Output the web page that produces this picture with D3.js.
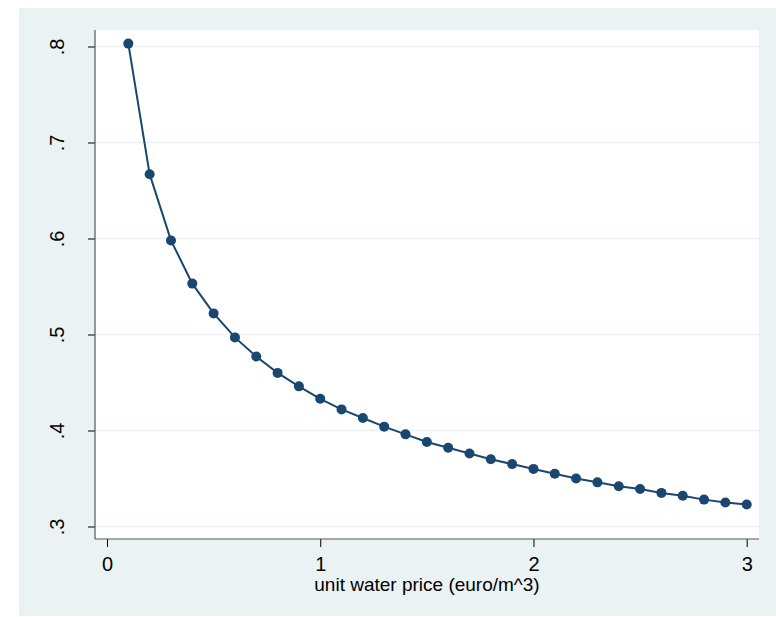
<!DOCTYPE html>
<html>
<head>
<meta charset="utf-8">
<script src="https://cdn.jsdelivr.net/npm/d3@7"></script>
<style>
  html, body { margin: 0; padding: 0; background: #ffffff; }
  svg { display: block; }
  text { font-family: "Liberation Sans", Arial, sans-serif; fill: #000; }
</style>
</head>
<body>
<svg id="chart" width="776" height="617"></svg>
<script>
// Data
const prices = [0.1,0.2,0.3,0.4,0.5,0.6,0.7,0.8,0.9,1.0,1.1,1.2,1.3,1.4,1.5,1.6,1.7,1.8,1.9,2.0,2.1,2.2,2.3,2.4,2.5,2.6,2.7,2.8,2.9,3.0];
const values = [0.803,0.667,0.598,0.553,0.522,0.497,0.477,0.460,0.446,0.433,0.422,0.413,0.404,0.396,0.388,0.382,0.376,0.370,0.365,0.360,0.355,0.350,0.346,0.342,0.339,0.335,0.332,0.328,0.325,0.323];
const xTicks = [0, 1, 2, 3];
const yTicks = [0.3, 0.4, 0.5, 0.6, 0.7, 0.8];
const xTitle = "unit water price (euro/m^3)";

const svg = d3.select("#chart");

// Outer graph region
svg.append("rect").attr("x", 19).attr("y", 8).attr("width", 757).attr("height", 608).attr("fill", "#EAF2F3");

const plot = {left: 95, top: 30, right: 759, bottom: 539};
svg.append("rect").attr("x", plot.left).attr("y", plot.top)
  .attr("width", plot.right - plot.left).attr("height", plot.bottom - plot.top).attr("fill", "#ffffff");

const x = d3.scaleLinear().domain([0, 3]).range([107, 746.7]);
const y = d3.scaleLinear().domain([0.3, 0.8]).range([526.5, 46.5]);

// Gridlines
svg.append("g").selectAll("line").data(yTicks).join("line")
  .attr("x1", plot.left).attr("x2", plot.right)
  .attr("y1", d => y(d)).attr("y2", d => y(d))
  .attr("stroke", "#EAF2F3").attr("stroke-width", 1.6);

// Y axis
const fmt = d => d3.format(".1f")(d).replace(/^0/, "");
const yAxis = svg.append("g").attr("transform", `translate(${plot.left},0)`)
  .call(d3.axisLeft(y).tickValues(yTicks).tickSize(7).tickSizeOuter(0).tickFormat(fmt));
yAxis.select(".domain").remove();
yAxis.selectAll(".tick line").attr("stroke", "#000").attr("stroke-width", 1);
yAxis.selectAll(".tick text")
  .attr("x", 0).attr("dy", null).attr("text-anchor", "middle")
  .attr("transform", "translate(-31,0) rotate(-90)")
  .attr("y", 0)
  .style("font-size", "20px")
  .style("font-family", "Liberation Sans, Arial, sans-serif");
svg.append("line").attr("x1", plot.left).attr("x2", plot.left).attr("y1", plot.top).attr("y2", plot.bottom)
  .attr("stroke", "#555").attr("stroke-width", 1.2);

// X axis
const xAxis = svg.append("g").attr("transform", `translate(0,${plot.bottom})`)
  .call(d3.axisBottom(x).tickValues(xTicks).tickSize(8).tickSizeOuter(0).tickFormat(d3.format("d")));
xAxis.select(".domain").remove();
xAxis.selectAll(".tick line").attr("stroke", "#000").attr("stroke-width", 1);
xAxis.selectAll(".tick text").attr("y", 31.5).attr("dy", null)
  .style("font-size", "20px").style("font-family", "Liberation Sans, Arial, sans-serif");
svg.append("line").attr("x1", plot.left).attr("x2", plot.right).attr("y1", plot.bottom).attr("y2", plot.bottom)
  .attr("stroke", "#555").attr("stroke-width", 1.2);

// X title
svg.append("text").attr("x", (plot.left + plot.right) / 2).attr("y", 591)
  .attr("text-anchor", "middle").style("font-size", "19px").text(xTitle);

// Line and markers
const pts = prices.map((p, i) => ({x: p, y: values[i]}));
svg.append("path").datum(pts)
  .attr("d", d3.line().x(d => x(d.x)).y(d => y(d.y)))
  .attr("fill", "none").attr("stroke", "#1A476F").attr("stroke-width", 2);
svg.append("g").selectAll("circle").data(pts).join("circle")
  .attr("cx", d => x(d.x)).attr("cy", d => y(d.y)).attr("r", 5)
  .attr("fill", "#1A476F");
</script>
</body>
</html>
